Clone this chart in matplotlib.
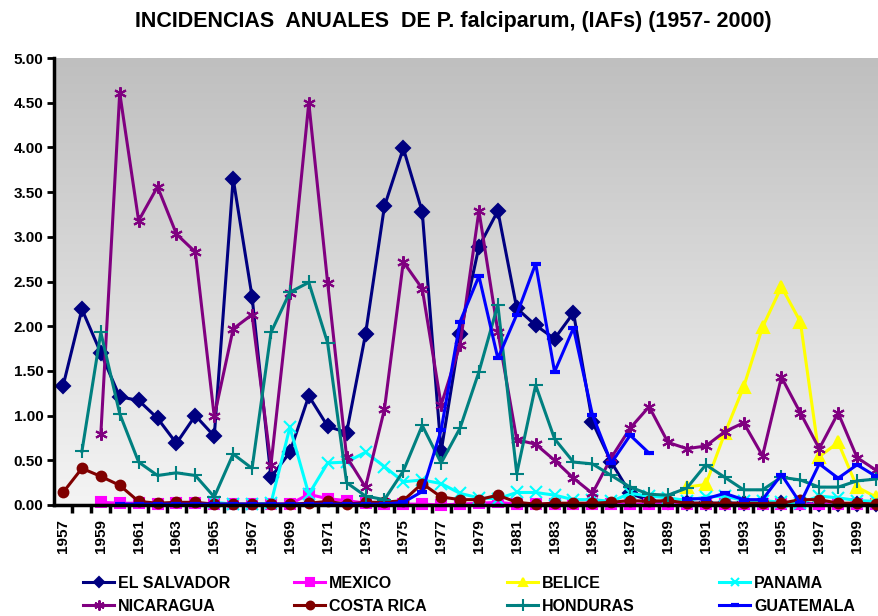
import numpy as np
import matplotlib
matplotlib.use('Agg')
import matplotlib.pyplot as plt
from matplotlib.colors import LinearSegmentedColormap

nan = np.nan
years = list(range(1957, 2001))

el_salvador = [1.33, 2.19, 1.70, 1.21, 1.17, 0.97, 0.69, 1.00, 0.77, 3.65,
               2.33, 0.31, 0.59, 1.22, 0.88, 0.81, 1.91, 3.34, 3.99, 3.28,
               0.60, 1.91, 2.89, 3.29, 2.20, 2.01, 1.86, 2.15, 0.93, 0.48,
               0.13, 0.05, 0.03, 0.02, 0.02, 0.02, 0.02, 0.02, 0.02, 0.02,
               0.01, 0.01, 0.01, 0.01]
mexico = [nan, nan, 0.03, 0.02, 0.02, 0.01, 0.02, 0.02, 0.01, 0.01,
          0.01, 0.01, 0.01, 0.12, 0.07, 0.05, 0.02, 0.01, 0.01, 0.01,
          0.00, 0.01, 0.02, 0.03, 0.01, 0.01, 0.01, 0.01, 0.01, 0.01,
          0.01, 0.01, 0.01, 0.01, 0.01, 0.01, 0.01, 0.01, 0.01, 0.01,
          0.01, 0.01, 0.01, 0.01]
belice = [nan] * 33 + [0.20, 0.23, 0.80, 1.32, 1.99, 2.44, 2.05, 0.54, 0.70, 0.20, 0.09]
panama = [nan] * 8 + [0.03, 0.01, 0.01, 0.02, 0.87, 0.12, 0.47, 0.48, 0.59, 0.43,
                      0.26, 0.28, 0.24, 0.13, 0.08, 0.07, 0.14, 0.14, 0.11, 0.06,
                      0.06, 0.04, 0.13, 0.10, 0.08, 0.05, 0.09, 0.10, 0.05, 0.05,
                      0.03, 0.02, 0.10, 0.08, 0.05, 0.04]
nicaragua = [nan, nan, 0.79, 4.61, 3.18, 3.56, 3.03, 2.83, 0.99, 1.97,
             2.13, 0.45, 2.37, 4.50, 2.48, 0.54, 0.20, 1.07, 2.72, 2.42,
             1.12, 1.79, 3.29, 1.94, 0.73, 0.68, 0.50, 0.30, 0.13, 0.53,
             0.86, 1.10, 0.70, 0.63, 0.66, 0.82, 0.92, 0.55, 1.43, 1.03,
             0.63, 1.03, 0.53, 0.39]
costa_rica = [0.14, 0.41, 0.32, 0.22, 0.04, 0.02, 0.03, 0.03, 0.01, 0.01,
              0.01, 0.01, 0.01, 0.02, 0.04, 0.01, 0.03, 0.03, 0.05, 0.24,
              0.09, 0.06, 0.06, 0.11, 0.03, 0.01, 0.02, 0.02, 0.02, 0.03,
              0.05, 0.04, 0.05, 0.02, 0.02, 0.02, 0.02, 0.02, 0.02, 0.06,
              0.06, 0.02, 0.02, 0.01]
honduras = [nan, 0.60, 1.93, 1.02, 0.48, 0.33, 0.36, 0.33, 0.09, 0.57,
            0.41, 1.93, 2.38, 2.49, 1.81, 0.25, 0.10, 0.06, 0.38, 0.89,
            0.47, 0.86, 1.49, 2.24, 0.35, 1.34, 0.74, 0.48, 0.46, 0.33,
            0.20, 0.12, 0.11, 0.19, 0.45, 0.31, 0.17, 0.17, 0.31, 0.28,
            0.20, 0.20, 0.27, 0.29]
guatemala = [nan, nan, nan] + [0.01] * 15 + [0.03, 0.15, 0.84, 2.05, 2.56, 1.64,
             2.13, 2.70, 1.49, 1.98, 1.01, 0.47, 0.78, 0.58, nan, 0.07,
             0.07, 0.13, 0.06, 0.06, 0.34, 0.02, 0.46, 0.30, 0.45, 0.32]

# series in Excel order: name, data, colour, marker, size
series = [
    ('EL SALVADOR', el_salvador, '#000080', 'D', 7),
    ('MEXICO', mexico, '#ff00ff', 's', 7),
    ('BELICE', belice, '#ffff00', '^', 8),
    ('PANAMA', panama, '#00ffff', 'x', 8),
    ('NICARAGUA', nicaragua, '#800080', (6, 2, 0), 9),
    ('COSTA RICA', costa_rica, '#800000', 'o', 7),
    ('HONDURAS', honduras, '#008080', '+', 10),
    ('GUATEMALA', guatemala, '#0000ff', '_', 7),
]

fig = plt.figure(figsize=(8.79, 6.16), dpi=100)
ax = fig.add_axes([54.5 / 879, 1 - 505 / 616, 1 - 54.5 / 879, (505 - 58) / 616])

# grey gradient background
bg = LinearSegmentedColormap.from_list('bg', ['#f4f4f4', '#bfbfbf'])
ax.imshow(np.linspace(0, 1, 256).reshape(-1, 1), cmap=bg, origin='lower',
          extent=[0, 1, 0, 1], transform=ax.transAxes, aspect='auto', zorder=0)

handles = []
for name, vals, col, mk, ms in series:
    mew = 3 if mk == '_' else 1.5
    h, = ax.plot(years, np.array(vals, dtype=float), color=col, lw=2.2,
                 marker=mk, markersize=ms, markeredgewidth=mew,
                 markeredgecolor=col, markerfacecolor=col, label=name,
                 zorder=2, clip_on=False)
    handles.append(h)

ax.set_xlim(1956.55, 2000.16)
ax.set_ylim(0, 5)
ax.set_yticks(np.arange(0, 5.01, 0.5))
ax.set_yticklabels([f'{v:.2f}' for v in np.arange(0, 5.01, 0.5)],
                   fontsize=11, fontweight='bold', family='Liberation Sans')
ax.tick_params(axis='y', direction='out', length=5, width=2, pad=3)

ax.set_xticks(np.arange(1957.5, 2000.5, 1))
ax.set_xticklabels([])
ax.tick_params(axis='x', which='major', direction='out', length=6, width=2.5)
ax.set_xticks(years[::2], minor=True)
ax.set_xticklabels([str(y) for y in years[::2]], minor=True, rotation=90,
                   fontsize=11, fontweight='bold', family='Liberation Sans')
ax.tick_params(axis='x', which='minor', length=0, pad=10)

for s in ['top', 'right']:
    ax.spines[s].set_visible(False)
for s in ['left', 'bottom']:
    ax.spines[s].set_linewidth(2.5)
    ax.spines[s].set_zorder(3)

fig.text(453 / 879, 1 - 22 / 616,
         'INCIDENCIAS  ANUALES  DE P. falciparum, (IAFs) (1957- 2000)',
         ha='center', va='center', fontsize=15.5, fontweight='bold',
         family='Liberation Sans')

# legend, one two-row block per column
col_x = [83, 294, 507, 719]
for i, x in enumerate(col_x):
    fig.legend(handles=[handles[i], handles[i + 4]], loc='upper left',
               bbox_to_anchor=(x / 879, 1 - 576 / 616), frameon=False,
               handlelength=1.95, handletextpad=0.25, labelspacing=0.5,
               borderpad=0, borderaxespad=0, markerscale=0.8,
               prop={'family': 'Liberation Sans', 'weight': 'bold',
                     'size': 11.5})

fig.savefig('out.png', dpi=100)
